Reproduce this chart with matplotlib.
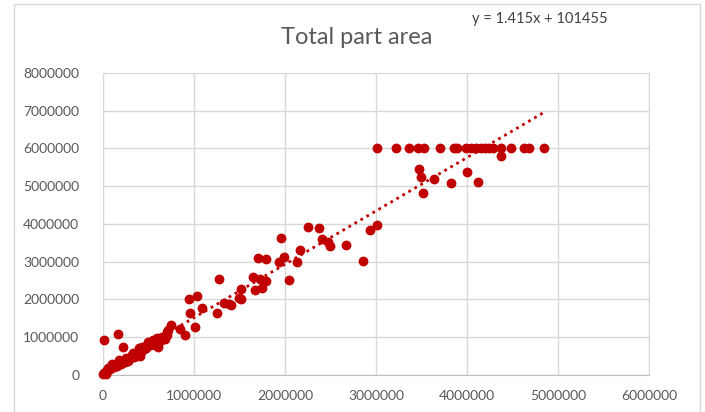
import matplotlib.pyplot as plt
from matplotlib.patches import Rectangle
import numpy as np

plt.rcParams['font.family'] = ['Lato', 'DejaVu Sans']

# part area values, in millions
x_vals = [0.00, 0.01, 0.02, 0.03, 0.04, 0.05, 0.06, 0.08, 0.09, 0.11, 0.12, 0.14, 0.15,
          0.17, 0.19, 0.20, 0.22, 0.24, 0.26, 0.28, 0.30, 0.32, 0.34, 0.36, 0.38, 0.41,
          0.42, 0.43, 0.45, 0.47, 0.50, 0.52, 0.55, 0.57, 0.59, 0.61, 0.63, 0.66, 0.68,
          0.70, 0.72, 0.75, 0.01, 0.16, 0.22,
          0.10, 0.18, 0.25, 0.33, 0.40, 0.48, 0.55, 0.65, 0.70,
          0.85, 0.90, 0.95, 0.96, 1.01, 1.03, 1.09, 1.25, 1.28, 1.33, 1.38, 1.41, 1.49,
          1.52, 1.52, 1.65, 1.67, 1.70, 1.73, 1.75, 1.79, 1.79, 1.93, 1.96, 1.99, 2.04,
          2.13, 2.16, 2.25, 2.37, 2.41, 2.47, 2.49, 2.67, 2.86, 2.93, 3.01,
          3.47, 3.49, 3.52, 3.64, 3.82, 4.00, 4.12, 4.37,
          3.01, 3.22, 3.36, 3.46, 3.53, 3.70, 3.85, 3.89, 3.99, 4.04, 4.10, 4.15, 4.20,
          4.24, 4.28, 4.37, 4.48, 4.62, 4.68, 4.84]
y_vals = [0.02, 0.05, 0.08, 0.03, 0.12, 0.10, 0.18, 0.15, 0.22, 0.26, 0.20, 0.28, 0.23,
          0.30, 0.35, 0.29, 0.38, 0.33, 0.40, 0.36, 0.45, 0.53, 0.47, 0.50, 0.58, 0.49,
          0.62, 0.75, 0.68, 0.72, 0.88, 0.78, 0.82, 0.80, 0.97, 0.75, 0.90, 1.01, 0.95,
          1.05, 1.19, 1.31, 0.92, 1.08, 0.75,
          0.30, 0.40, 0.45, 0.58, 0.70, 0.80, 0.92, 1.00, 1.15,
          1.21, 1.06, 2.01, 1.63, 1.28, 2.09, 1.76, 1.65, 2.53, 1.90, 1.88, 1.85, 2.03,
          2.00, 2.27, 2.60, 2.25, 3.09, 2.53, 2.30, 3.06, 2.50, 2.99, 3.62, 3.13, 2.52,
          2.98, 3.31, 3.93, 3.90, 3.59, 3.53, 3.42, 3.43, 3.02, 3.84, 3.96,
          5.45, 5.24, 4.81, 5.19, 5.08, 5.37, 5.12, 5.80,
          6.0, 6.0, 6.0, 6.0, 6.0, 6.0, 6.0, 6.0, 6.0, 6.0, 6.0, 6.0, 6.0,
          6.0, 6.0, 6.0, 6.0, 6.0, 6.0, 6.0]

slope = 1.415
intercept = 101455

x = np.array(x_vals) * 1e6
y = np.array(y_vals) * 1e6

fig = plt.figure(figsize=(7.05, 4.12), dpi=100)
ax = fig.add_axes([0.146, 0.090, 0.775, 0.733])

# chart area border
fig.patches.append(Rectangle((14 / 705, -0.1), 686 / 705, 1.09, transform=fig.transFigure,
                             fill=False, edgecolor='#D9D9D9', linewidth=1))

ax.scatter(x, y, s=50, color='#C00000', zorder=3, linewidths=0, clip_on=False)

# linear trendline
tx = np.array([x.min(), x.max()])
ax.plot(tx, slope * tx + intercept, color='#C00000', linestyle=(0, (1, 1.5)),
        linewidth=2, zorder=4)

ax.set_xlim(0, 6000000)
ax.set_ylim(0, 8000000)
ax.set_xticks(np.arange(0, 6000001, 1000000))
ax.set_yticks(np.arange(0, 8000001, 1000000))
ax.set_xticklabels([f'{int(v)}' for v in ax.get_xticks()])
ax.set_yticklabels([f'{int(v)}' for v in ax.get_yticks()])
ax.tick_params(length=0, labelsize=10, labelcolor='#595959', pad=11)
ax.tick_params(axis='y', pad=17)
ax.grid(True, color='#D9D9D9', linewidth=1)
ax.set_axisbelow(True)
for s in ax.spines.values():
    s.set_color('#D9D9D9')
ax.spines['bottom'].set_color('#BFBFBF')

fig.text(0.506, 0.91, 'Total part area', ha='center', va='center', fontsize=17,
         color='#595959')
fig.text(0.766, 0.955, f'y = {slope}x + {intercept}', ha='center', va='center',
         fontsize=10.5, color='#404040')

fig.savefig('out.png', dpi=100)
